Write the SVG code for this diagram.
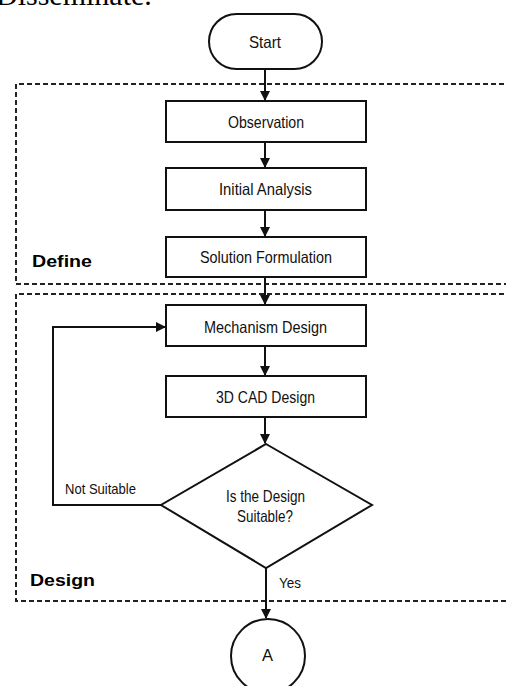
<svg xmlns="http://www.w3.org/2000/svg" width="506" height="686" viewBox="0 0 506 686">
<defs>
<marker id="arr" viewBox="0 0 10 10" refX="9" refY="5" markerWidth="10" markerHeight="10" markerUnits="userSpaceOnUse" orient="auto">
<path d="M0,0 L10,5 L0,10 z" fill="#111"/>
</marker>
<style>
.box{fill:#fff;stroke:#111;stroke-width:2}
.t{font-family:"Liberation Sans",Arial,sans-serif;font-size:16.5px;fill:#111;text-anchor:middle}
.lbl{font-family:"Liberation Sans",Arial,sans-serif;font-size:15px;fill:#111}
.sec{font-family:"Liberation Sans",Arial,sans-serif;font-size:17px;font-weight:bold;fill:#000}
.dash{fill:none;stroke:#222;stroke-width:2;stroke-dasharray:5 3}
.c{fill:none;stroke:#111;stroke-width:2}
</style>
</defs>
<rect width="506" height="686" fill="#fff"/>
<text x="-4" y="5" font-family="'Liberation Serif','Times New Roman',serif" font-size="30" fill="#000">Disseminate.</text>
<g id="define-region">
<path class="dash" d="M520,84 H16 V284 H520"/>
<text class="sec" x="32" y="267" textLength="60" lengthAdjust="spacingAndGlyphs">Define</text>
</g>
<g id="design-region">
<path class="dash" d="M520,294 H16 V601 H520"/>
<text class="sec" x="30" y="586" textLength="65" lengthAdjust="spacingAndGlyphs">Design</text>
</g>
<g id="connectors">
<line class="c" x1="265" y1="69" x2="265" y2="100" marker-end="url(#arr)"/>
<line class="c" x1="265" y1="142" x2="265" y2="167" marker-end="url(#arr)"/>
<line class="c" x1="265" y1="210" x2="265" y2="236" marker-end="url(#arr)"/>
<line class="c" x1="265" y1="277" x2="265" y2="304" marker-end="url(#arr)"/>
<line class="c" x1="265" y1="346" x2="265" y2="375" marker-end="url(#arr)"/>
<line class="c" x1="265" y1="417" x2="265" y2="443" marker-end="url(#arr)"/>
<polyline class="c" points="161,505 53,505 53,327 165,327" marker-end="url(#arr)"/>
<line class="c" x1="266" y1="568" x2="266" y2="618" marker-end="url(#arr)"/>
<text class="lbl" x="65" y="494" textLength="71" lengthAdjust="spacingAndGlyphs">Not Suitable</text>
<text class="lbl" x="279" y="588" textLength="22" lengthAdjust="spacingAndGlyphs">Yes</text>
</g>
<g id="start">
<rect class="box" x="209" y="14" width="113" height="55" rx="27.5"/>
<text class="t" x="265" y="48" textLength="32" lengthAdjust="spacingAndGlyphs">Start</text>
</g>
<g id="observation">
<rect class="box" x="166" y="101" width="200" height="41"/>
<text class="t" x="266" y="128" textLength="76" lengthAdjust="spacingAndGlyphs">Observation</text>
</g>
<g id="initial-analysis">
<rect class="box" x="166" y="168" width="200" height="42"/>
<text class="t" x="265.5" y="195" textLength="93" lengthAdjust="spacingAndGlyphs">Initial Analysis</text>
</g>
<g id="solution-formulation">
<rect class="box" x="166" y="237" width="200" height="40"/>
<text class="t" x="266" y="263" textLength="132" lengthAdjust="spacingAndGlyphs">Solution Formulation</text>
</g>
<g id="mechanism-design">
<rect class="box" x="166" y="305" width="200" height="41"/>
<text class="t" x="265.5" y="333" textLength="123" lengthAdjust="spacingAndGlyphs">Mechanism Design</text>
</g>
<g id="cad-design">
<rect class="box" x="166" y="376" width="200" height="41"/>
<text class="t" x="265.5" y="403" textLength="99" lengthAdjust="spacingAndGlyphs">3D CAD Design</text>
</g>
<g id="decision">
<polygon class="box" points="266,444 372,505 266,568 161,505"/>
<text class="t" x="265.5" y="502" textLength="79" lengthAdjust="spacingAndGlyphs">Is the Design</text>
<text class="t" x="265" y="522" textLength="56" lengthAdjust="spacingAndGlyphs">Suitable?</text>
</g>
<g id="connector-a">
<circle class="box" cx="268" cy="656" r="37"/>
<text class="t" x="267.5" y="661" font-size="17">A</text>
</g>
</svg>
